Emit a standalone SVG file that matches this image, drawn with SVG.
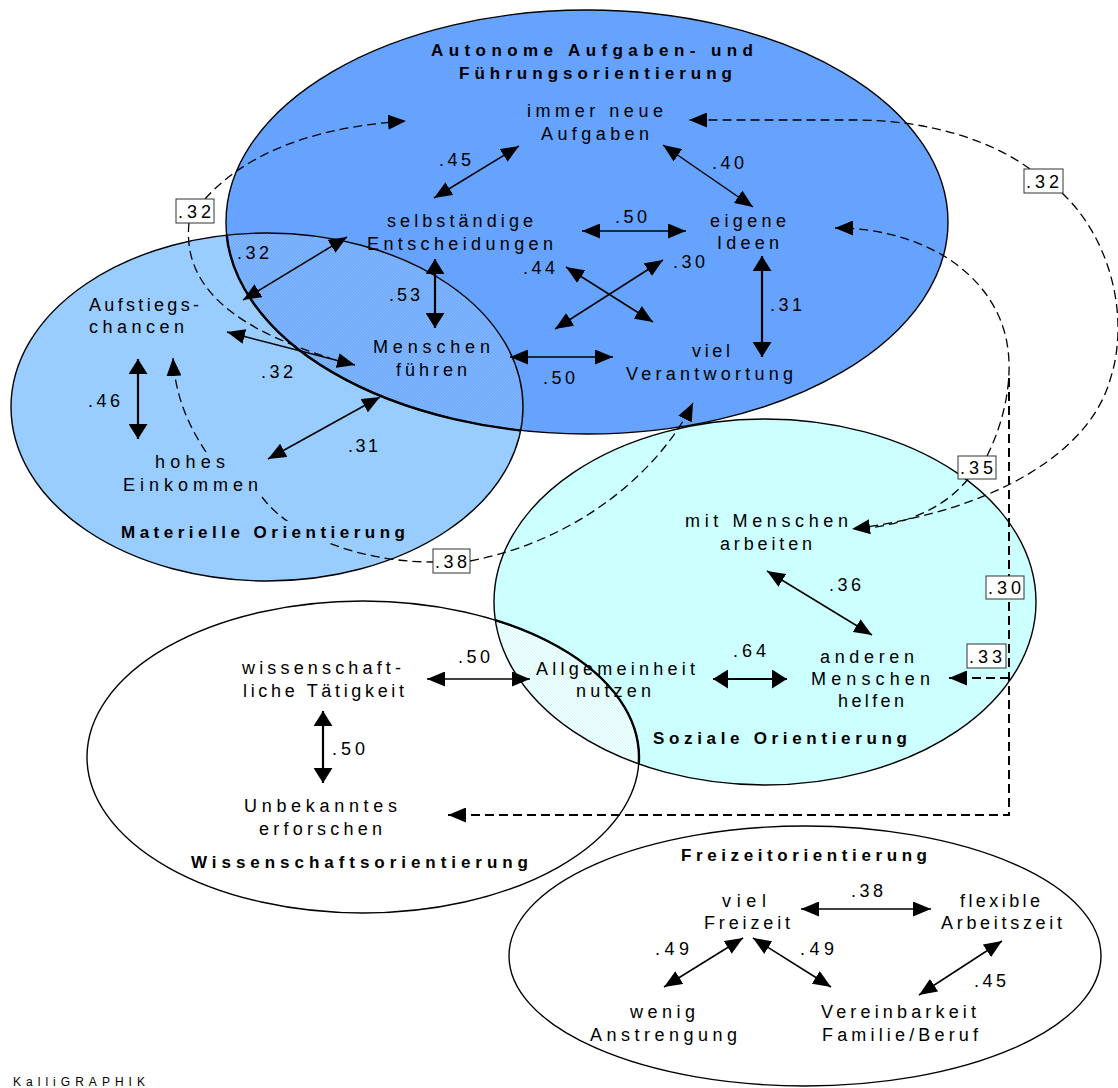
<svg xmlns="http://www.w3.org/2000/svg" width="1118" height="1088" viewBox="0 0 1118 1088">
<style>
.t{font-family:"Liberation Sans",Arial,sans-serif;font-size:18px;fill:#000}
.b{font-weight:bold;font-size:17px}
.k{font-size:12px}
.ol{fill:none;stroke:#000;stroke-width:1.4}
.olt{fill:none;stroke:#000;stroke-width:2.4}
.sa{fill:none;stroke:#000;stroke-width:1.5;marker-start:url(#ah);marker-end:url(#ah)}
.sb{fill:none;stroke:#000;stroke-width:2.2;marker-start:url(#ahb);marker-end:url(#ahb)}
.d{fill:none;stroke:#000;stroke-width:1.3;stroke-dasharray:9 5}
.dv{fill:none;stroke:#000;stroke-width:2;stroke-dasharray:9 5}
.ae{marker-end:url(#ah)}
.box{fill:#fff;stroke:#333;stroke-width:1}
</style>
<defs>
<marker id="ah" markerUnits="userSpaceOnUse" markerWidth="18" markerHeight="15" refX="18" refY="7.5" orient="auto-start-reverse"><path d="M0,0 L18,7.5 L0,15 z" fill="#000"/></marker>
<marker id="ahb" markerUnits="userSpaceOnUse" markerWidth="15" markerHeight="19" refX="15" refY="9.5" orient="auto-start-reverse"><path d="M0,0 L15,9.5 L0,19 z" fill="#000"/></marker>
<pattern id="hatchB" patternUnits="userSpaceOnUse" width="3" height="3"><rect width="3" height="3" fill="#73abfc"/><path d="M0,3 L3,0" stroke="#8cbeff" stroke-width="0.8"/></pattern>
<pattern id="hatchC" patternUnits="userSpaceOnUse" width="3" height="3"><rect width="3" height="3" fill="#f2ffff"/><path d="M0,0 L3,3" stroke="#c6f6f6" stroke-width="0.8"/></pattern>
<clipPath id="cTop"><ellipse cx="587" cy="222" rx="361" ry="212"/></clipPath>
<clipPath id="cMat"><ellipse cx="267" cy="407" rx="256" ry="174"/></clipPath>
<clipPath id="cSoz"><ellipse cx="765" cy="602" rx="271" ry="183"/></clipPath>
<mask id="mTitle"><rect width="1118" height="1088" fill="#fff"/><rect x="118" y="521" width="290" height="22" fill="#000"/></mask>
</defs>

<g id="clusters">
<g id="autonome">
<ellipse cx="587" cy="222" rx="361" ry="212" fill="#66a3ff"/>
</g>
<g id="materielle">
<ellipse cx="267" cy="407" rx="256" ry="174" fill="#99ccff"/>
<ellipse cx="267" cy="407" rx="256" ry="174" fill="url(#hatchB)" clip-path="url(#cTop)"/>
</g>
<g id="soziale">
<ellipse cx="765" cy="602" rx="271" ry="183" fill="#ccffff"/>
</g>
<g id="wissenschaft">
<ellipse cx="363" cy="757" rx="276" ry="156" fill="#fff"/>
<ellipse cx="363" cy="757" rx="276" ry="156" fill="url(#hatchC)" clip-path="url(#cSoz)"/>
</g>
<g id="freizeit">
<ellipse cx="805" cy="956" rx="296" ry="130" fill="#fff" class="ol"/>
</g>
<g id="outlines">
<ellipse cx="587" cy="222" rx="361" ry="212" class="ol"/>
<ellipse cx="267" cy="407" rx="256" ry="174" class="ol"/>
<ellipse cx="587" cy="222" rx="361" ry="212" class="olt" clip-path="url(#cMat)"/>
<ellipse cx="765" cy="602" rx="271" ry="183" class="ol"/>
<ellipse cx="363" cy="757" rx="276" ry="156" class="ol"/>
<ellipse cx="363" cy="757" rx="276" ry="156" class="olt" clip-path="url(#cSoz)"/>
</g>
</g>

<g id="connectors">
<line x1="434" y1="198" x2="519" y2="146" class="sa"/>
<line x1="663" y1="145" x2="753" y2="207" class="sa"/>
<line x1="582" y1="231" x2="686" y2="231" class="sa"/>
<line x1="435" y1="259" x2="435" y2="328" class="sb"/>
<line x1="566" y1="267" x2="653" y2="322" class="sa"/>
<line x1="663" y1="260" x2="555" y2="329" class="sa"/>
<line x1="762" y1="256" x2="762" y2="357" class="sb"/>
<line x1="510" y1="357" x2="613" y2="357" class="sa"/>
<line x1="243" y1="300" x2="347" y2="237" class="sa"/>
<line x1="227" y1="332" x2="355" y2="365" class="sa"/>
<line x1="268" y1="459" x2="380" y2="397" class="sa"/>
<line x1="138" y1="359" x2="138" y2="439" class="sb"/>
<line x1="767" y1="571" x2="872" y2="635" class="sa"/>
<line x1="713" y1="679" x2="787" y2="679" class="sb"/>
<line x1="427" y1="679" x2="530" y2="679" class="sa"/>
<line x1="323" y1="711" x2="323" y2="783" class="sb"/>
<line x1="801" y1="909" x2="931" y2="909" class="sa"/>
<line x1="743" y1="938" x2="664" y2="987" class="sa"/>
<line x1="753" y1="938" x2="831" y2="987" class="sa"/>
<line x1="1002" y1="941" x2="919" y2="995" class="sa"/>

<path d="M205,199 C240,160 300,128 406,121" class="d ae"/>
<path d="M189,223 C182,290 240,330 330,358" class="d"/>
<path d="M1030,169 C990,140 930,121 860,120 L689,120" class="d ae"/>
<path d="M1062,193 C1112,240 1130,320 1110,380 C1090,450 1000,510 852,529" class="d ae"/>
<path d="M987,456 C1005,420 1012,380 1008,350 C1000,280 930,228 835,228" class="d ae"/>
<path d="M968,479 C945,508 905,525 860,529" class="d"/>
<path d="M1009,378 L1009,815 L448,815" class="dv ae"/>
<path d="M1009,678 L949,678" class="dv ae"/>
<path d="M262,497 C290,535 360,562 433,562" class="d" mask="url(#mTitle)"/>
<path d="M470,561 C580,540 660,470 693,403" class="d ae"/>
<path d="M206,452 C188,425 175,395 173,358" class="d ae"/>
</g>

<g id="labels">
<g id="box-32a"><rect x="176" y="199" width="38" height="24" class="box"/><text x="178" y="218" textLength="33" lengthAdjust="spacing" class="t">.32</text></g>
<g id="box-32b"><rect x="1024" y="169" width="39" height="24" class="box"/><text x="1026" y="188" textLength="33" lengthAdjust="spacing" class="t">.32</text></g>
<g id="box-35"><rect x="958" y="456" width="38" height="23" class="box"/><text x="960" y="474" textLength="33" lengthAdjust="spacing" class="t">.35</text></g>
<g id="box-38"><rect x="433" y="549" width="37" height="24" class="box"/><text x="435" y="568" textLength="32" lengthAdjust="spacing" class="t">.38</text></g>
<g id="box-30"><rect x="986" y="576" width="38" height="23" class="box"/><text x="988" y="594" textLength="33" lengthAdjust="spacing" class="t">.30</text></g>
<g id="box-33"><rect x="967" y="644" width="39" height="24" class="box"/><text x="969" y="663" textLength="33" lengthAdjust="spacing" class="t">.33</text></g>

<text x="439" y="166" textLength="32" lengthAdjust="spacing" class="t">.45</text>
<text x="712" y="169" textLength="32" lengthAdjust="spacing" class="t">.40</text>
<text x="615" y="223" textLength="32" lengthAdjust="spacing" class="t">.50</text>
<text x="523" y="274" textLength="32" lengthAdjust="spacing" class="t">.44</text>
<text x="673" y="268" textLength="32" lengthAdjust="spacing" class="t">.30</text>
<text x="770" y="311" textLength="32" lengthAdjust="spacing" class="t">.31</text>
<text x="389" y="301" textLength="31" lengthAdjust="spacing" class="t">.53</text>
<text x="543" y="384" textLength="32" lengthAdjust="spacing" class="t">.50</text>
<text x="237" y="259" textLength="32" lengthAdjust="spacing" class="t">.32</text>
<text x="261" y="378" textLength="32" lengthAdjust="spacing" class="t">.32</text>
<text x="348" y="452" textLength="30" lengthAdjust="spacing" class="t">.31</text>
<text x="88" y="407" textLength="32" lengthAdjust="spacing" class="t">.46</text>
<text x="829" y="591" textLength="32" lengthAdjust="spacing" class="t">.36</text>
<text x="733" y="657" textLength="33" lengthAdjust="spacing" class="t">.64</text>
<text x="458" y="663" textLength="32" lengthAdjust="spacing" class="t">.50</text>
<text x="332" y="755" textLength="33" lengthAdjust="spacing" class="t">.50</text>
<text x="851" y="897" textLength="32" lengthAdjust="spacing" class="t">.38</text>
<text x="655" y="955" textLength="34" lengthAdjust="spacing" class="t">.49</text>
<text x="800" y="955" textLength="34" lengthAdjust="spacing" class="t">.49</text>
<text x="974" y="987" textLength="32" lengthAdjust="spacing" class="t">.45</text>
</g>

<g id="titles">
<text x="431" y="56" textLength="322" lengthAdjust="spacing" class="t b">Autonome Aufgaben- und</text>
<text x="459" y="79" textLength="273" lengthAdjust="spacing" class="t b">Führungsorientierung</text>
<text x="121" y="538" textLength="284" lengthAdjust="spacing" class="t b">Materielle Orientierung</text>
<text x="653" y="744" textLength="254" lengthAdjust="spacing" class="t b">Soziale Orientierung</text>
<text x="191" y="868" textLength="337" lengthAdjust="spacing" class="t b">Wissenschaftsorientierung</text>
<text x="681" y="861" textLength="246" lengthAdjust="spacing" class="t b">Freizeitorientierung</text>
</g>

<g id="n-aufgaben"><text x="527" y="117" textLength="136" lengthAdjust="spacing" class="t">immer neue</text><text x="541" y="140" textLength="108" lengthAdjust="spacing" class="t">Aufgaben</text></g>
<g id="n-entscheidungen"><text x="387" y="227" textLength="146" lengthAdjust="spacing" class="t">selbständige</text><text x="367" y="250" textLength="186" lengthAdjust="spacing" class="t">Entscheidungen</text></g>
<g id="n-ideen"><text x="710" y="227" textLength="76" lengthAdjust="spacing" class="t">eigene</text><text x="717" y="249" textLength="62" lengthAdjust="spacing" class="t">Ideen</text></g>
<g id="n-menschenfuehren"><text x="373" y="353" textLength="117" lengthAdjust="spacing" class="t">Menschen</text><text x="396" y="376" textLength="71" lengthAdjust="spacing" class="t">führen</text></g>
<g id="n-verantwortung"><text x="692" y="357" textLength="38" lengthAdjust="spacing" class="t">viel</text><text x="626" y="380" textLength="167" lengthAdjust="spacing" class="t">Verantwortung</text></g>
<g id="n-aufstieg"><text x="89" y="311" textLength="110" lengthAdjust="spacing" class="t">Aufstiegs-</text><text x="89" y="333" textLength="95" lengthAdjust="spacing" class="t">chancen</text></g>
<g id="n-einkommen"><text x="155" y="468" textLength="70" lengthAdjust="spacing" class="t">hohes</text><text x="123" y="491" textLength="135" lengthAdjust="spacing" class="t">Einkommen</text></g>
<g id="n-mitmenschen"><text x="685" y="527" textLength="163" lengthAdjust="spacing" class="t">mit Menschen</text><text x="720" y="550" textLength="92" lengthAdjust="spacing" class="t">arbeiten</text></g>
<g id="n-helfen"><text x="820" y="663" textLength="94" lengthAdjust="spacing" class="t">anderen</text><text x="811" y="685" textLength="119" lengthAdjust="spacing" class="t">Menschen</text><text x="838" y="707" textLength="66" lengthAdjust="spacing" class="t">helfen</text></g>
<g id="n-allgemeinheit"><text x="536" y="675" textLength="159" lengthAdjust="spacing" class="t">Allgemeinheit</text><text x="576" y="697" textLength="75" lengthAdjust="spacing" class="t">nutzen</text></g>
<g id="n-wiss"><text x="242" y="674" textLength="159" lengthAdjust="spacing" class="t">wissenschaft-</text><text x="243" y="697" textLength="161" lengthAdjust="spacing" class="t">liche Tätigkeit</text></g>
<g id="n-unbekanntes"><text x="244" y="812" textLength="153" lengthAdjust="spacing" class="t">Unbekanntes</text><text x="259" y="835" textLength="123" lengthAdjust="spacing" class="t">erforschen</text></g>
<g id="n-freizeit"><text x="722" y="907" textLength="44" lengthAdjust="spacing" class="t">viel</text><text x="704" y="929" textLength="86" lengthAdjust="spacing" class="t">Freizeit</text></g>
<g id="n-flexibel"><text x="960" y="907" textLength="80" lengthAdjust="spacing" class="t">flexible</text><text x="941" y="929" textLength="121" lengthAdjust="spacing" class="t">Arbeitszeit</text></g>
<g id="n-wenig"><text x="630" y="1018" textLength="65" lengthAdjust="spacing" class="t">wenig</text><text x="590" y="1041" textLength="147" lengthAdjust="spacing" class="t">Anstrengung</text></g>
<g id="n-vereinbarkeit"><text x="821" y="1018" textLength="155" lengthAdjust="spacing" class="t">Vereinbarkeit</text><text x="822" y="1041" textLength="156" lengthAdjust="spacing" class="t">Familie/Beruf</text></g>

<text x="13" y="1086" textLength="132" lengthAdjust="spacing" class="t k">KalliGRAPHIK</text>
</svg>
